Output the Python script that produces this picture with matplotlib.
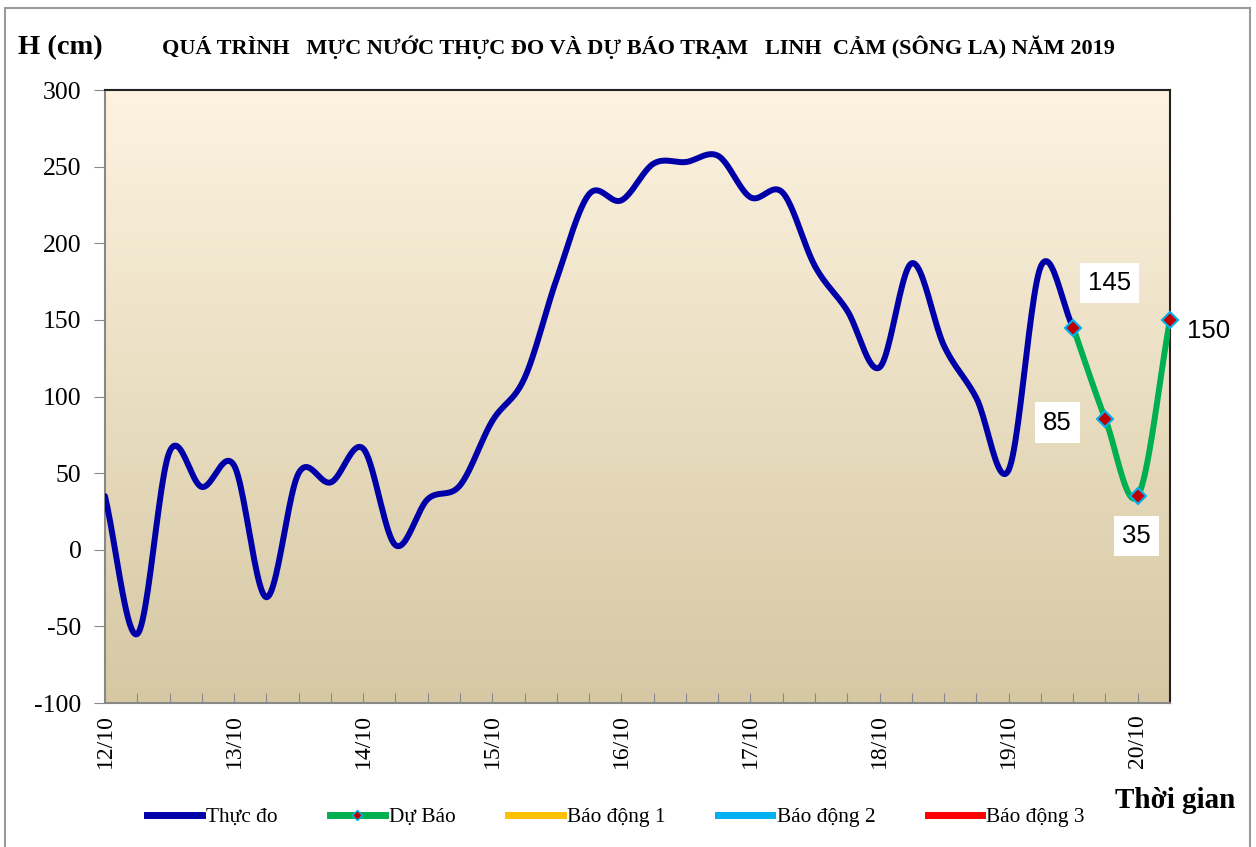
import numpy as np
import matplotlib
matplotlib.use("Agg")
import matplotlib.pyplot as plt
from matplotlib.lines import Line2D
from matplotlib.patches import Rectangle

# ---- data (6-hourly, starting 12/10 00h) ----
observed = [35, -55, 64, 41, 55, -31, 50, 44, 66, 3, 33, 42,
            84, 112, 177, 232, 228, 252, 253, 257, 230, 233, 185, 156,
            119, 187, 133, 99, 52, 185, 145]
forecast = [145, 85, 35, 150]
forecast_start = 30
day_labels = ["12/10", "13/10", "14/10", "15/10", "16/10",
              "17/10", "18/10", "19/10", "20/10"]
legend_labels = ["Thực đo", "Dự Báo", "Báo động 1", "Báo động 2", "Báo động 3"]

SERIF = ["Liberation Serif", "DejaVu Serif"]
SANS = ["Liberation Sans", "DejaVu Sans"]


def smooth(xs, ys, n=24):
    xs = np.asarray(xs, float)
    ys = np.asarray(ys, float)
    P = np.column_stack([xs, ys])
    P = np.vstack([2 * P[0] - P[1], P, 2 * P[-1] - P[-2]])
    out = []
    t = np.linspace(0, 1, n, endpoint=False)
    for i in range(1, len(P) - 2):
        p0, p1, p2, p3 = P[i - 1], P[i], P[i + 1], P[i + 2]
        tt = t[:, None]
        seg = 0.5 * ((2 * p1) + (-p0 + p2) * tt +
                     (2 * p0 - 5 * p1 + 4 * p2 - p3) * tt ** 2 +
                     (-p0 + 3 * p1 - 3 * p2 + p3) * tt ** 3)
        out.append(seg)
    out.append(P[-2][None, :])
    arr = np.vstack(out)
    return arr[:, 0], arr[:, 1]


fig = plt.figure(figsize=(12.56, 8.47), dpi=100)
ax = fig.add_axes([105 / 1256, 1 - 703 / 847, (1170 - 105) / 1256, (703 - 90) / 847])

# background gradient
top = np.array([253, 243, 224]) / 255
bot = np.array([214, 200, 163]) / 255
g = np.linspace(0, 1, 256)[:, None]
grad = top[None, None, :] * (1 - g[:, :, None]) + bot[None, None, :] * g[:, :, None]
ax.imshow(grad, extent=[0, 33, -100, 300], aspect="auto", zorder=0)

xo = np.arange(len(observed))
sx, sy = smooth(xo, observed)
ax.plot(sx, sy, color="#0000A8", lw=4.3, solid_capstyle="round", zorder=3)

xf = np.arange(forecast_start, forecast_start + len(forecast))
fx, fy = smooth(xf, forecast)
ax.plot(fx, fy, color="#00B050", lw=4.3, solid_capstyle="round", zorder=4)
ax.plot(xf, forecast, linestyle="none", marker="D", markersize=8.5,
        markerfacecolor="#C00000", markeredgecolor="#00B0F0",
        markeredgewidth=1.5, zorder=5, clip_on=False)

# data labels
offsets = [(1.12, 29), (-1.49, -2), (-0.05, -26), (1.2, -7)]
for x, y, (dx, dy), box in zip(xf, forecast, offsets, [True, True, True, False]):
    kw = dict(fontsize=18.5, family=SANS, ha="center", va="center", zorder=6)
    if box:
        kw["bbox"] = dict(facecolor="white", edgecolor="none", pad=6)
    ax.text(x + dx, y + dy, str(y), clip_on=False, **kw)

ax.set_xlim(0, 33)
ax.set_ylim(-100, 300)
ax.set_yticks(range(-100, 301, 50))
ax.set_yticklabels([str(v) for v in range(-100, 301, 50)], family=SERIF, fontsize=18.5)
ax.set_xticks(range(0, 34))
ax.set_xticklabels([day_labels[i // 4] if i % 4 == 0 and i // 4 < len(day_labels) else ""
                    for i in range(34)], family=SERIF, fontsize=17, rotation=90)
ax.tick_params(axis="x", direction="in", length=7, color="#888888", pad=8)
ax.tick_params(axis="y", direction="out", length=8, color="#888888", pad=9)

for s in ["left", "bottom"]:
    ax.spines[s].set_color("#888888")
    ax.spines[s].set_linewidth(1.5)
for s in ["top", "right"]:
    ax.spines[s].set_color("#222222")
    ax.spines[s].set_linewidth(1.5)

# titles
fig.text(18 / 1256, 1 - 48 / 847, "H (cm)", family=SERIF, fontweight="bold",
         fontsize=20.5, ha="left", va="center")
fig.text(638 / 1256, 1 - 47 / 847,
         "QUÁ TRÌNH   MỰC NƯỚC THỰC ĐO VÀ DỰ BÁO TRẠM   LINH  CẢM (SÔNG LA) NĂM 2019",
         family=SERIF, fontweight="bold", fontsize=16, ha="center", va="center")
fig.text(1235 / 1256, 1 - 800 / 847, "Thời gian", family=SERIF, fontweight="bold",
         fontsize=21, ha="right", va="center")

# legend
handles = [
    Line2D([], [], color="#0000A8", lw=5),
    Line2D([], [], color="#00B050", lw=5, marker="D", markersize=5,
           markerfacecolor="#C00000", markeredgecolor="#00B0F0"),
    Line2D([], [], color="#FFC000", lw=5),
    Line2D([], [], color="#00B0F0", lw=5),
    Line2D([], [], color="#FF0000", lw=5),
]
fig.legend(handles, legend_labels, loc="center", bbox_to_anchor=(616 / 1256, 1 - 817 / 847),
           ncol=5, frameon=False, prop={"family": SERIF, "size": 15.4},
           handlelength=2.55, handletextpad=0.2, columnspacing=2.45)

# outer border
fig.patches.append(Rectangle((5 / 1256, -0.01), 1245 / 1256, 1 - 8 / 847 + 0.01,
                             transform=fig.transFigure, fill=False,
                             edgecolor="#999999", lw=1.5))

fig.savefig("out.png", dpi=100, facecolor="white")
